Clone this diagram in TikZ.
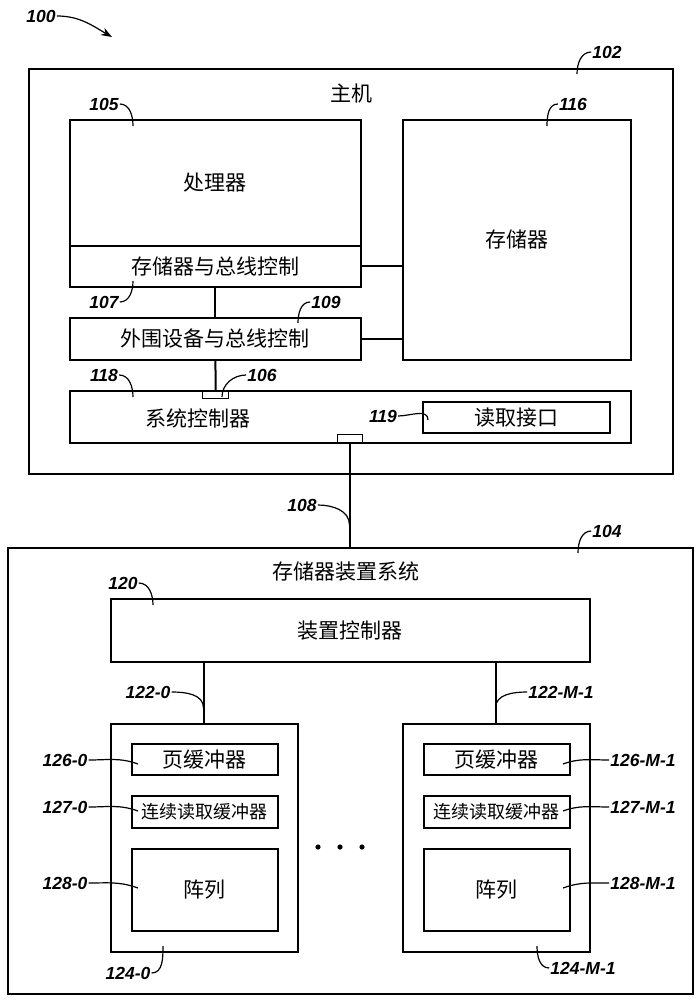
\documentclass[tikz,border=0pt]{standalone}
\usepackage{fontspec}
\setmainfont{Liberation Sans}
\newfontfamily\cjk{Noto Sans CJK SC}
\usetikzlibrary{arrows.meta}

\begin{document}
\begin{tikzpicture}[x=1pt,y=-1pt,
    box/.style={draw,line width=1.8pt,inner sep=0pt,anchor=north west,
      font=\cjk\fontsize{21}{24}\selectfont},
    txt/.style={inner sep=0pt,font=\cjk\fontsize{21}{24}\selectfont},
    num/.style={inner sep=1pt,font=\bfseries\itshape\fontsize{17.5}{19}\selectfont},
    lead/.style={line width=1.2pt},
    wire/.style={line width=2pt}]
  \useasboundingbox (0,0) rectangle (699,1000);

  % host
  \node[box,minimum width=644,minimum height=405] (host) at (28,68) {};
  \node[txt] (hostt) at (351,94) {主机};
  \node[box,minimum width=291,minimum height=126] (proc) at (69,119) {处理器};
  \node[box,minimum width=291,minimum height=41] (membus) at (69,245) {存储器与总线控制};
  \node[box,minimum width=228,minimum height=240] (mem) at (402,119) {存储器};
  \node[box,minimum width=291,minimum height=42] (periph) at (69,317) {外围设备与总线控制};
  \node[box,minimum width=561,minimum height=52] (sysctl) at (69,390) {};
  \node[txt] (sysctlt) at (198,418) {系统控制器};
  \node[box,minimum width=187,minimum height=31] (readif) at (422,401) {读取接口};
  \node[box,line width=1.4pt,minimum width=26,minimum height=8] (p106) at (202,390) {};
  \node[box,line width=1.4pt,minimum width=25,minimum height=8] (p108) at (337,434) {};

  % storage device
  \node[box,minimum width=685,minimum height=446] (store) at (7,547) {};
  \node[txt] (storet) at (346,572) {存储器装置系统};
  \node[box,minimum width=479,minimum height=63] (devctl) at (110,598) {装置控制器};
  \foreach \m/\x in {0/110,M/402} {
    \node[box,minimum width=187,minimum height=228] (mod\m) at (\x,723) {};
    \node[box,minimum width=146,minimum height=31] (pb\m) at (\x+21,743) {页缓冲器};
    \node[box,minimum width=146,minimum height=32,
      font=\cjk\fontsize{18}{20}\selectfont] (crb\m) at (\x+21,795) {连续读取缓冲器};
    \node[box,minimum width=146,minimum height=82] (arr\m) at (\x+21,848) {阵列};
  }
  \foreach \x in {318,340,362} \fill (\x,847) circle (2.6pt);

  % buses
  \draw[wire] (membus.east) -- (membus.east -| mem.west);
  \draw[wire] (periph.east) -- (periph.east -| mem.west);
  \draw[wire] (membus.south) -- (periph.north);
  \draw[wire] (periph.south) -- (p106.north);
  \draw[wire] (p108.south) -- (p108.south |- store.north);
  \draw[wire] (mod0.north |- devctl.south) -- (mod0.north);
  \draw[wire] (modM.north |- devctl.south) -- (modM.north);

  % reference numerals
  \node[num] (n100) at (41,16) {100};
  \coordinate (a100) at (112,37);
  \draw[lead,-{Stealth[length=11pt,width=8pt]}] (n100.east) to[out=0,in=150] (a100);

  \node[num] (n102) at (607,52) {102};
  \node[num] (n105) at (104,104) {105};
  \node[num] (n116) at (573,104) {116};
  \node[num] (n107) at (104,302) {107};
  \node[num] (n109) at (326,302) {109};
  \node[num] (n118) at (104,375) {118};
  \node[num] (n106) at (262,375) {106};
  \node[num] (n119) at (383,416) {119};
  \node[num] (n108) at (302,505) {108};
  \node[num] (n104) at (607,531) {104};
  \node[num] (n120) at (123,583) {120};
  \node[num] (n1220) at (148,692) {122-0};
  \node[num] (n122M) at (561,692) {122-M-1};
  \node[num] (n1260) at (65,760) {126-0};
  \node[num] (n1270) at (65,807) {127-0};
  \node[num] (n1280) at (65,883) {128-0};
  \node[num] (n1240) at (128,973) {124-0};
  \node[num] (n126M) at (643,760) {126-M-1};
  \node[num] (n127M) at (643,807) {127-M-1};
  \node[num] (n128M) at (643,883) {128-M-1};
  \node[num] (n124M) at (583,968) {124-M-1};

  \coordinate (c102) at (577,74);
  \coordinate (c105) at (133,126);
  \coordinate (c116) at (547,126);
  \coordinate (c107) at (133,281);
  \coordinate (c109) at (298,323);
  \coordinate (c118) at (133,397);
  \coordinate (c106) at (222,397);
  \coordinate (c119) at (428,420);
  \coordinate (c108) at (349.5,525);
  \coordinate (c104) at (578,553);
  \coordinate (c120) at (153,605);
  \coordinate (c1220) at (203.5,708);
  \coordinate (c122M) at (495.5,708);
  \coordinate (c1260) at (138,764);
  \coordinate (c1270) at (138,811);
  \coordinate (c1280) at (138,888);
  \coordinate (c1240) at (163,946);
  \coordinate (c126M) at (563,764);
  \coordinate (c127M) at (563,811);
  \coordinate (c128M) at (563,888);
  \coordinate (c124M) at (537,946);

  \path[lead] (n102.west) edge[out=180,in=90] (c102)
    (n105.east) edge[out=0,in=90] (c105)
    (n116.west) edge[out=180,in=90] (c116)
    (n107.east) edge[out=0,in=-90] (c107)
    (n109.west) edge[out=180,in=90] (c109)
    (n118.east) edge[out=0,in=90] (c118)
    (n106.west) edge[out=180,in=90] (c106)
    (n119.east) edge[out=0,in=90] (c119)
    (n108.east) edge[out=0,in=90] (c108)
    (n104.west) edge[out=180,in=90] (c104)
    (n120.east) edge[out=0,in=90] (c120)
    (n1220.east) edge[out=0,in=90] (c1220)
    (n122M.west) edge[out=180,in=90] (c122M)
    (n1260.east) edge[out=0,in=160] (c1260)
    (n1270.east) edge[out=0,in=160] (c1270)
    (n1280.east) edge[out=0,in=160] (c1280)
    (n1240.east) edge[out=0,in=-90] (c1240)
    (n126M.west) edge[out=180,in=20] (c126M)
    (n127M.west) edge[out=180,in=20] (c127M)
    (n128M.west) edge[out=180,in=20] (c128M)
    (n124M.west) edge[out=180,in=-90] (c124M);
\end{tikzpicture}
\end{document}
